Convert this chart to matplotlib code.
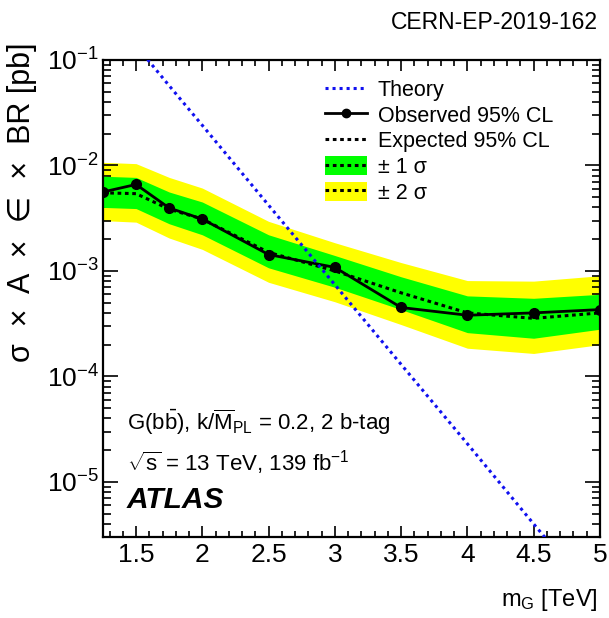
import matplotlib
matplotlib.use("Agg")
import matplotlib.pyplot as plt
from matplotlib.lines import Line2D
from matplotlib.patches import Patch
from matplotlib.ticker import LogLocator, MultipleLocator, FixedLocator, NullFormatter

plt.rcParams['font.family'] = ['Liberation Sans', 'DejaVu Sans']
plt.rcParams['mathtext.fontset'] = 'custom'
plt.rcParams['mathtext.rm'] = 'Liberation Sans'
plt.rcParams['mathtext.it'] = 'Liberation Sans:italic'
plt.rcParams['mathtext.bf'] = 'Liberation Sans:bold'
plt.rcParams['mathtext.sf'] = 'Liberation Sans'

# Graviton mass points [TeV]
mass = [1.25, 1.5, 1.75, 2.0, 2.5, 3.0, 3.5, 4.0, 4.5, 5.0]

# 95% CL upper limits on sigma x A x eff x BR [pb]
observed = [5.6e-3, 6.6e-3, 3.95e-3, 3.1e-3, 1.43e-3, 1.08e-3, 4.5e-4, 3.8e-4, 4.0e-4, 4.3e-4]
expected = [5.5e-3, 5.4e-3, 3.85e-3, 3.1e-3, 1.5e-3, 1.0e-3, 6.2e-4, 4.0e-4, 3.55e-4, 4.0e-4]
plus2 = [1.07e-2, 1.04e-2, 7.7e-3, 6.1e-3, 2.95e-3, 1.85e-3, 1.2e-3, 8.1e-4, 8.0e-4, 9.0e-4]
plus1 = [7.9e-3, 7.7e-3, 5.6e-3, 4.5e-3, 2.2e-3, 1.4e-3, 8.8e-4, 5.8e-4, 5.5e-4, 6.0e-4]
minus1 = [4.0e-3, 3.9e-3, 2.8e-3, 2.2e-3, 1.07e-3, 7.0e-4, 4.3e-4, 2.6e-4, 2.3e-4, 2.8e-4]
minus2 = [3.0e-3, 2.9e-3, 2.05e-3, 1.6e-3, 7.8e-4, 5.1e-4, 3.1e-4, 1.85e-4, 1.65e-4, 2.0e-4]

# Theory prediction for k/M_PL = 0.2 [pb]
theory = [0.33, 0.137, 0.057, 0.024, 4.2e-3, 7.4e-4, 1.3e-4, 2.3e-5, 4.0e-6, 7.1e-7]

x_ticks = [1.5, 2, 2.5, 3, 3.5, 4, 4.5, 5]
x_tick_labels = ["1.5", "2", "2.5", "3", "3.5", "4", "4.5", "5"]

GREEN = "#00ff00"
YELLOW = "#ffff00"
BLUE = "#1010f0"
EXP_DASH = (0, (1.2, 1.2))

fig = plt.figure(figsize=(6.09, 6.18), dpi=100)
ax = fig.add_axes([0.169, 0.131, 0.816, 0.772])

ax.fill_between(mass, minus2, plus2, color=YELLOW, lw=0, zorder=1)
ax.fill_between(mass, minus1, plus1, color=GREEN, lw=0, zorder=2)
ax.plot(mass, expected, color="black", lw=2.2, ls=EXP_DASH, zorder=3)
ax.plot(mass, observed, color="black", lw=2.0, marker="o", ms=7, zorder=4)
ax.plot(mass, theory, color=BLUE, lw=2.2, ls=(0, (1, 1.3)), zorder=5)

ax.set_yscale("log")
ax.set_xlim(1.25, 5.0)
ax.set_ylim(3e-6, 0.1)

ax.xaxis.set_major_locator(FixedLocator(x_ticks))
ax.set_xticklabels(x_tick_labels)
ax.xaxis.set_minor_locator(MultipleLocator(0.1))
ax.yaxis.set_major_locator(LogLocator(base=10, numticks=20))
ax.yaxis.set_minor_locator(LogLocator(base=10, subs=range(2, 10), numticks=20))
ax.yaxis.set_minor_formatter(NullFormatter())

ax.tick_params(axis="both", which="both", direction="in", top=True, right=True,
               width=1.2, labelsize=19, colors="black")
ax.tick_params(axis="x", which="major", length=8, pad=4)
ax.tick_params(axis="x", which="minor", length=4)
ax.tick_params(axis="y", which="major", length=11, pad=3)
ax.tick_params(axis="y", which="minor", length=5.5)
for sp in ax.spines.values():
    sp.set_linewidth(1.6)

handles = [
    Line2D([], [], color=BLUE, lw=2.2, ls=(0, (1, 1.3))),
    Line2D([], [], color="black", lw=2.0, marker="o", ms=6),
    Line2D([], [], color="black", lw=2.2, ls=EXP_DASH),
    (Patch(color=GREEN, lw=0), Line2D([], [], color="black", lw=2.2, ls=EXP_DASH)),
    (Patch(color=YELLOW, lw=0), Line2D([], [], color="black", lw=2.2, ls=EXP_DASH)),
]
labels = ["Theory", "Observed 95% CL", "Expected 95% CL", "± 1 σ", "± 2 σ"]
ax.legend(handles, labels, loc="upper left", bbox_to_anchor=(0.43, 0.978), frameon=False,
          fontsize=15.5, handlelength=1.95, handleheight=1.0, handletextpad=0.5,
          labelspacing=0.17, borderaxespad=0.0)

ax.text(0.048, 0.241, r"G(b$\mathrm{\bar{b}}$), k/$\mathrm{\overline{M}_{PL}}$ = 0.2, 2 b-tag",
        transform=ax.transAxes, fontsize=16, va="center", ha="left")
ax.text(0.048, 0.155, r"$\sqrt{\mathrm{s}}$ = 13 TeV, 139 fb$^{\mathrm{-1}}$",
        transform=ax.transAxes, fontsize=16, va="center", ha="left")
ax.text(0.048, 0.078, "ATLAS", transform=ax.transAxes, fontsize=21.5,
        fontweight="bold", fontstyle="italic", va="center", ha="left")

fig.text(0.982, 0.964, "CERN-EP-2019-162", fontsize=16.5, ha="right", va="center")
fig.text(0.982, 0.029, r"m$_{\mathrm{G}}$ [TeV]", fontsize=17, ha="right", va="center")
fig.text(0.036, 0.932, "σ  ×  A  ×  ∈  ×  BR [pb]", fontsize=22, rotation=90,
         ha="center", va="top")

fig.savefig("out.png", dpi=100)
